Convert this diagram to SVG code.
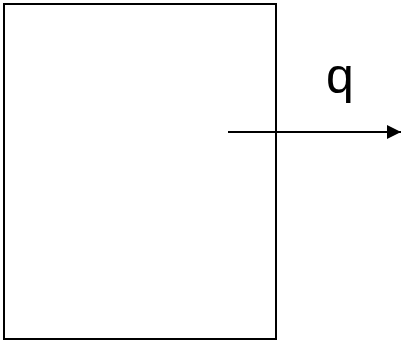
<svg xmlns="http://www.w3.org/2000/svg" width="401" height="341" viewBox="0 0 401 341">
<style>
.box{fill:#fff;stroke:#000;stroke-width:2}
.edge{stroke:#000;stroke-width:2;fill:none}
.lbl{font-family:"Liberation Sans",Arial,sans-serif;font-size:50px;fill:#000}
</style>
<defs>
<marker id="arr" markerUnits="userSpaceOnUse" markerWidth="14" markerHeight="14" refX="14" refY="7" orient="auto" viewBox="0 0 14 14">
<path d="M0,0 L14,7 L0,14 z" fill="#000"/>
</marker>
</defs>
<rect width="401" height="341" fill="#fff"/>
<g id="block">
<rect class="box" x="4" y="4" width="272" height="335"/>
</g>
<g id="connectors">
<line class="edge" x1="228" y1="132" x2="401" y2="132" marker-end="url(#arr)"/>
</g>
<g id="label-q">
<text class="lbl" x="326" y="93">q</text>
</g>
</svg>
